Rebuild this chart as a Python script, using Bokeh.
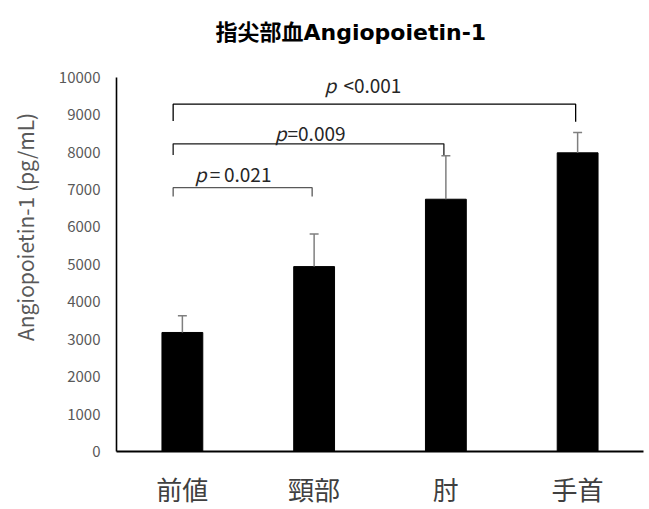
import math
from bokeh.plotting import figure
from bokeh.models import FixedTicker, Range1d, Title
from bokeh.core.properties import value
from bokeh.embed import file_html
from bokeh.resources import INLINE

# ---- data ----
categories = ["前値", "頸部", "肘", "手首"]
means = [3180, 4940, 6740, 7980]
err_tops = [3630, 5810, 7900, 8525]
y_ticks = [0, 1000, 2000, 3000, 4000, 5000, 6000, 7000, 8000, 9000, 10000]

cmp_from = [0, 0, 0]
cmp_to = [1, 2, 3]
cmp_p_text = ["=\u20090.021", "=0.009", "<0.001"]
cmp_y = [7050, 8220, 9280]
cmp_drop_left = [6810, 7920, 8830]
cmp_drop_right = [6810, 7920, 8810]

FONT = "Noto Sans CJK JP"

p = figure(width=649, height=509, output_backend="svg", toolbar_location=None,
           x_range=Range1d(0, 4), y_range=Range1d(0, 10500),
           min_border_left=116, min_border_right=6, min_border_top=58,
           min_border_bottom=57)
p.outline_line_color = None
p.grid.visible = False
p.background_fill_color = "white"

xs = [i + 0.5 for i in range(len(categories))]

# bars
p.vbar(x=xs, top=means, width=0.31, fill_color="black", line_color="black")

# error bars
p.segment(x0=xs, y0=means, x1=xs, y1=err_tops, line_color="#7f7f7f", line_width=1.5)
cap = 0.034
p.segment(x0=[x - cap for x in xs], y0=err_tops, x1=[x + cap for x in xs], y1=err_tops,
          line_color="#7f7f7f", line_width=1.5)

# significance brackets
bx, by = [], []
bracket_colors = ["#595959", "#1a1a1a", "#000000"]
txt_x = []
for i in range(len(cmp_from)):
    xl = xs[cmp_from[i]] - 0.07
    xr = xs[cmp_to[i]] - 0.015
    bx.append([xl, xl, xr, xr])
    by.append([cmp_drop_left[i], cmp_y[i], cmp_y[i], cmp_drop_right[i]])
    txt_x.append((xl + xr) / 2)
p.multi_line(xs=bx, ys=by, line_color=bracket_colors, line_width=1.3)

p_xoff = [-36, -22, -38]
rest_xoff = [-33, -21, -31]
txt_yoff = [-14, -11, -20]
for i in range(len(cmp_from)):
    p.text(x=[txt_x[i]], y=[cmp_y[i]], text=["p"], x_offset=p_xoff[i], y_offset=txt_yoff[i],
           text_align="right", text_baseline="middle", text_font=value(FONT),
           text_font_style="italic", text_font_size="19px", text_color="#262626")
    p.text(x=[txt_x[i]], y=[cmp_y[i]], text=[cmp_p_text[i]], x_offset=rest_xoff[i],
           y_offset=txt_yoff[i],
           text_align="left", text_baseline="middle", text_font=value(FONT),
           text_font_size="19px", text_color="#262626")

# axes
xa = p.xaxis[0]
xa.ticker = FixedTicker(ticks=xs)
xa.major_label_overrides = {x: c for x, c in zip(xs, categories)}
xa.major_tick_line_color = None
xa.minor_tick_line_color = None
xa.major_tick_out = 0
xa.major_tick_in = 0
xa.axis_line_color = "black"
xa.axis_line_width = 2
xa.major_label_text_font = FONT
xa.major_label_text_font_size = "26px"
xa.major_label_text_line_height = 1.0
xa.major_label_text_color = "#404040"
xa.major_label_standoff = 18

ya = p.yaxis[0]
ya.ticker = FixedTicker(ticks=y_ticks)
ya.bounds = (0, 10000)
ya.major_tick_line_color = None
ya.minor_tick_line_color = None
ya.major_tick_out = 0
ya.major_tick_in = 0
ya.axis_line_color = "black"
ya.axis_line_width = 1.6
ya.major_label_text_font = FONT
ya.major_label_text_font_size = "15px"
ya.major_label_text_color = "#595959"
ya.major_label_standoff = 16
ya.axis_label = "\u3000\u3000\u00a0\u00a0\u00a0Angiopoietin-1 (pg/mL)"
ya.axis_label_text_font = FONT
ya.axis_label_text_font_size = "21px"
ya.axis_label_text_font_style = "normal"
ya.axis_label_text_color = "#595959"
ya.axis_label_standoff = 16

p.add_layout(Title(text="指尖部血Angiopoietin-1", align="left", offset=99,
                   text_font="DejaVu Sans, Noto Sans CJK JP", text_font_size="22px",
                   text_line_height=0.5,
                   text_font_style="bold", text_color="#000000", standoff=27), "above")

open("out.html", "w").write(file_html(p, INLINE))
